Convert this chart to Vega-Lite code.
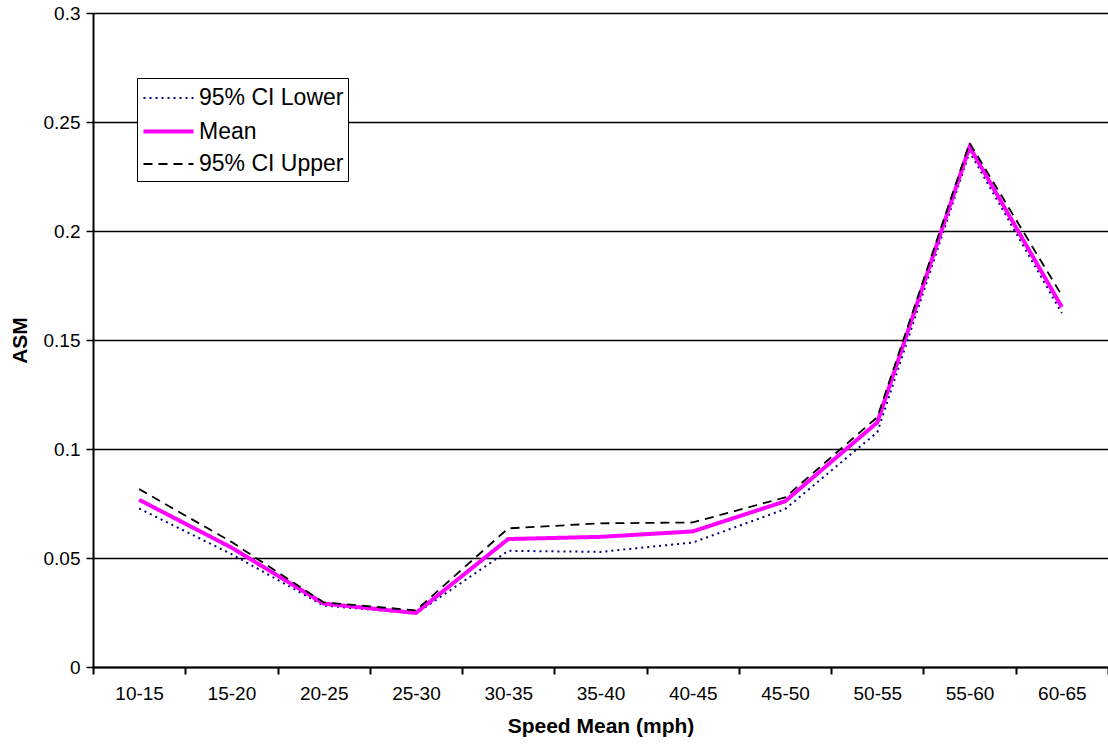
{
  "$schema": "https://vega.github.io/schema/vega-lite/v6.json",
  "width": 1015,
  "height": 654,
  "autosize": {"type": "none"},
  "padding": {"left": 93, "top": 13, "right": 0, "bottom": 77},
  "background": "white",
  "config": {
    "font": "Liberation Sans",
    "view": {"stroke": null},
    "axis": {"labelFont": "Liberation Sans", "titleFont": "Liberation Sans", "labelColor": "black", "titleColor": "black"}
  },
  "data": {
    "values": [
      {"speed": "10-15", "series": "95% CI Lower", "asm": 0.0727},
      {"speed": "15-20", "series": "95% CI Lower", "asm": 0.0518},
      {"speed": "20-25", "series": "95% CI Lower", "asm": 0.0282},
      {"speed": "25-30", "series": "95% CI Lower", "asm": 0.0245},
      {"speed": "30-35", "series": "95% CI Lower", "asm": 0.0533},
      {"speed": "35-40", "series": "95% CI Lower", "asm": 0.0528},
      {"speed": "40-45", "series": "95% CI Lower", "asm": 0.0571},
      {"speed": "45-50", "series": "95% CI Lower", "asm": 0.0724},
      {"speed": "50-55", "series": "95% CI Lower", "asm": 0.1077},
      {"speed": "55-60", "series": "95% CI Lower", "asm": 0.2363},
      {"speed": "60-65", "series": "95% CI Lower", "asm": 0.1623},
      {"speed": "10-15", "series": "Mean", "asm": 0.0767},
      {"speed": "15-20", "series": "Mean", "asm": 0.0548},
      {"speed": "20-25", "series": "Mean", "asm": 0.0291},
      {"speed": "25-30", "series": "Mean", "asm": 0.0248},
      {"speed": "30-35", "series": "Mean", "asm": 0.0587},
      {"speed": "35-40", "series": "Mean", "asm": 0.0597},
      {"speed": "40-45", "series": "Mean", "asm": 0.0622},
      {"speed": "45-50", "series": "Mean", "asm": 0.0760},
      {"speed": "50-55", "series": "Mean", "asm": 0.1122},
      {"speed": "55-60", "series": "Mean", "asm": 0.2386},
      {"speed": "60-65", "series": "Mean", "asm": 0.1651},
      {"speed": "10-15", "series": "95% CI Upper", "asm": 0.0816},
      {"speed": "15-20", "series": "95% CI Upper", "asm": 0.0574},
      {"speed": "20-25", "series": "95% CI Upper", "asm": 0.0296},
      {"speed": "25-30", "series": "95% CI Upper", "asm": 0.0260},
      {"speed": "30-35", "series": "95% CI Upper", "asm": 0.0636},
      {"speed": "35-40", "series": "95% CI Upper", "asm": 0.0659},
      {"speed": "40-45", "series": "95% CI Upper", "asm": 0.0663},
      {"speed": "45-50", "series": "95% CI Upper", "asm": 0.0778},
      {"speed": "50-55", "series": "95% CI Upper", "asm": 0.1146},
      {"speed": "55-60", "series": "95% CI Upper", "asm": 0.2404},
      {"speed": "60-65", "series": "95% CI Upper", "asm": 0.1704}
    ]
  },
  "mark": {"type": "line", "clip": false},
  "encoding": {
    "x": {
      "field": "speed",
      "type": "ordinal",
      "scale": {"type": "band", "paddingInner": 0, "paddingOuter": 0},
      "axis": {
        "title": "Speed Mean (mph)",
        "titleFontSize": 21,
        "titleFontWeight": "bold",
        "titlePadding": 12,
        "labelAngle": 0,
        "labelFontSize": 19,
        "labelPadding": 10,
        "tickBand": "extent",
        "tickSize": 7,
        "tickColor": "black",
        "tickWidth": 2,
        "domainColor": "black",
        "domainWidth": 2,
        "grid": false
      }
    },
    "y": {
      "field": "asm",
      "type": "quantitative",
      "scale": {"domain": [0, 0.3], "nice": false},
      "axis": {
        "title": "ASM",
        "titleFontSize": 21,
        "titleFontWeight": "bold",
        "titlePadding": 13,
        "values": [0, 0.05, 0.1, 0.15, 0.2, 0.25, 0.3],
        "format": "~g",
        "labelFontSize": 19,
        "labelPadding": 6,
        "tickSize": 7,
        "tickColor": "black",
        "tickWidth": 1.5,
        "domainColor": "black",
        "domainWidth": 2,
        "grid": true,
        "gridColor": "black",
        "gridWidth": 1.3,
        "gridOpacity": 1
      }
    },
    "color": {
      "field": "series",
      "type": "nominal",
      "sort": ["95% CI Lower", "Mean", "95% CI Upper"],
      "scale": {"domain": ["95% CI Lower", "Mean", "95% CI Upper"], "range": ["#000080", "#FF00FF", "#000000"]},
      "legend": {
        "title": null,
        "orient": "none",
        "legendX": 44,
        "legendY": 65,
        "fillColor": "white",
        "strokeColor": "black",
        "padding": 4.5,
        "labelFontSize": 23,
        "labelColor": "black",
        "labelFont": "Liberation Sans",
        "symbolType": "M-1,0H2.45",
        "symbolSize": 841,
        "rowPadding": 4.5,
        "labelOffset": 24.5
      }
    },
    "strokeDash": {
      "field": "series",
      "type": "nominal",
      "sort": ["95% CI Lower", "Mean", "95% CI Upper"],
      "scale": {"domain": ["95% CI Lower", "Mean", "95% CI Upper"], "range": [[2, 4], [1, 0], [9, 6]]}
    },
    "strokeWidth": {
      "field": "series",
      "type": "nominal",
      "sort": ["95% CI Lower", "Mean", "95% CI Upper"],
      "scale": {"type": "ordinal", "domain": ["95% CI Lower", "Mean", "95% CI Upper"], "range": [2, 4, 1.8]}
    }
  }
}
